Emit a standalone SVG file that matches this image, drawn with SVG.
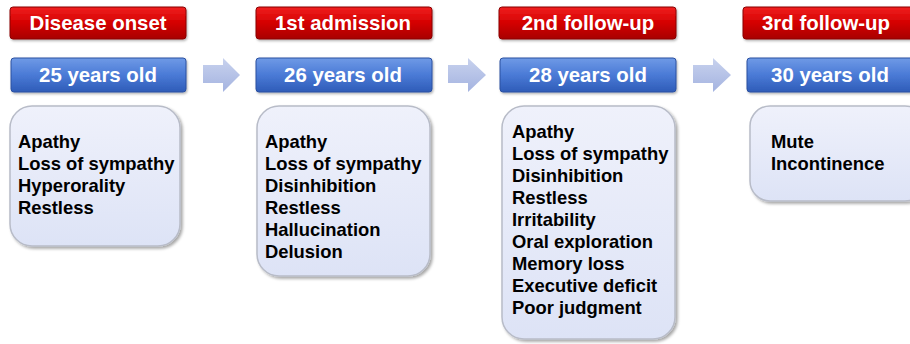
<svg xmlns="http://www.w3.org/2000/svg" width="910" height="344" viewBox="0 0 910 344">
<defs>
<linearGradient id="gRed" x1="0" y1="0" x2="0" y2="1">
<stop offset="0" stop-color="#f02020"/>
<stop offset="0.5" stop-color="#d40000"/>
<stop offset="1" stop-color="#a80000"/>
</linearGradient>
<linearGradient id="gBlue" x1="0" y1="0" x2="0" y2="1">
<stop offset="0" stop-color="#6f9ae6"/>
<stop offset="0.5" stop-color="#4a7ad6"/>
<stop offset="1" stop-color="#2f5cb8"/>
</linearGradient>
<linearGradient id="gBox" x1="0" y1="0" x2="0" y2="1">
<stop offset="0" stop-color="#eff1fb"/>
<stop offset="1" stop-color="#dde3f6"/>
</linearGradient>
<linearGradient id="gArrow" x1="0" y1="0" x2="0" y2="1">
<stop offset="0" stop-color="#c8d2ee"/>
<stop offset="1" stop-color="#a4b3e0"/>
</linearGradient>
<filter id="sh" x="-10%" y="-10%" width="130%" height="130%">
<feDropShadow dx="2" dy="2" stdDeviation="1.5" flood-color="#000" flood-opacity="0.35"/>
</filter>
<filter id="shs" x="-10%" y="-20%" width="130%" height="150%">
<feDropShadow dx="1" dy="1.5" stdDeviation="1" flood-color="#000" flood-opacity="0.3"/>
</filter>
</defs>
<style>
.red{fill:url(#gRed);stroke:#8a0000;stroke-width:1;filter:url(#shs)}
.blue{fill:url(#gBlue);stroke:#2a50a0;stroke-width:1;filter:url(#shs)}
.box{fill:url(#gBox);stroke:#b8bcc8;stroke-width:1.5;filter:url(#sh)}
.hd{font-family:"Liberation Sans",Arial,sans-serif;font-weight:bold;font-size:20.4px;fill:#fff;text-anchor:middle}
.tx{font-family:"Liberation Sans",Arial,sans-serif;font-weight:bold;font-size:18.4px;fill:#000}
.arr{fill:url(#gArrow)}
</style>

<g id="connectors">
<path class="arr" d="M203,65 H223 V58 L240,75 L223,92 V83 H203 Z"/>
<path class="arr" d="M448,65 H468 V58 L486,75 L468,92 V83 H448 Z"/>
<path class="arr" d="M693,65 H713 V58 L731,75 L713,92 V83 H693 Z"/>
</g>

<g id="col1">
<g id="head1"><rect class="red" x="10" y="7" width="176" height="32" rx="3"/><text class="hd" x="98" y="30">Disease onset</text></g>
<g id="age1"><rect class="blue" x="11" y="58" width="175" height="34" rx="3"/><text class="hd" x="98" y="82">25 years old</text></g>
<g id="box1"><rect class="box" x="10" y="106" width="170" height="140" rx="22"/>
<text class="tx" x="18" y="148">Apathy</text>
<text class="tx" x="18" y="170">Loss of sympathy</text>
<text class="tx" x="18" y="192">Hyperorality</text>
<text class="tx" x="18" y="214">Restless</text></g>
</g>

<g id="col2">
<g id="head2"><rect class="red" x="256" y="7" width="176" height="32" rx="3"/><text class="hd" x="343" y="30">1st admission</text></g>
<g id="age2"><rect class="blue" x="256" y="58" width="176" height="34" rx="3"/><text class="hd" x="343" y="82">26 years old</text></g>
<g id="box2"><rect class="box" x="257" y="106" width="173" height="170" rx="22"/>
<text class="tx" x="265" y="148">Apathy</text>
<text class="tx" x="265" y="170">Loss of sympathy</text>
<text class="tx" x="265" y="192">Disinhibition</text>
<text class="tx" x="265" y="214">Restless</text>
<text class="tx" x="265" y="236">Hallucination</text>
<text class="tx" x="265" y="258">Delusion</text></g>
</g>

<g id="col3">
<g id="head3"><rect class="red" x="499" y="7" width="177" height="32" rx="3"/><text class="hd" x="588" y="30">2nd follow-up</text></g>
<g id="age3"><rect class="blue" x="500" y="58" width="176" height="34" rx="3"/><text class="hd" x="588" y="82">28 years old</text></g>
<g id="box3"><rect class="box" x="502" y="106" width="173" height="233" rx="22"/>
<text class="tx" x="512" y="138">Apathy</text>
<text class="tx" x="512" y="160">Loss of sympathy</text>
<text class="tx" x="512" y="182">Disinhibition</text>
<text class="tx" x="512" y="204">Restless</text>
<text class="tx" x="512" y="226">Irritability</text>
<text class="tx" x="512" y="248">Oral exploration</text>
<text class="tx" x="512" y="270">Memory loss</text>
<text class="tx" x="512" y="292">Executive deficit</text>
<text class="tx" x="512" y="314">Poor judgment</text></g>
</g>

<g id="col4">
<g id="head4"><rect class="red" x="743" y="7" width="180" height="32" rx="3"/><text class="hd" x="826" y="30">3rd follow-up</text></g>
<g id="age4"><rect class="blue" x="747" y="58" width="176" height="34" rx="3"/><text class="hd" x="830" y="82">30 years old</text></g>
<g id="box4"><rect class="box" x="750" y="106" width="175" height="95" rx="20"/>
<text class="tx" x="771" y="148">Mute</text>
<text class="tx" x="771" y="170">Incontinence</text></g>
</g>
</svg>
